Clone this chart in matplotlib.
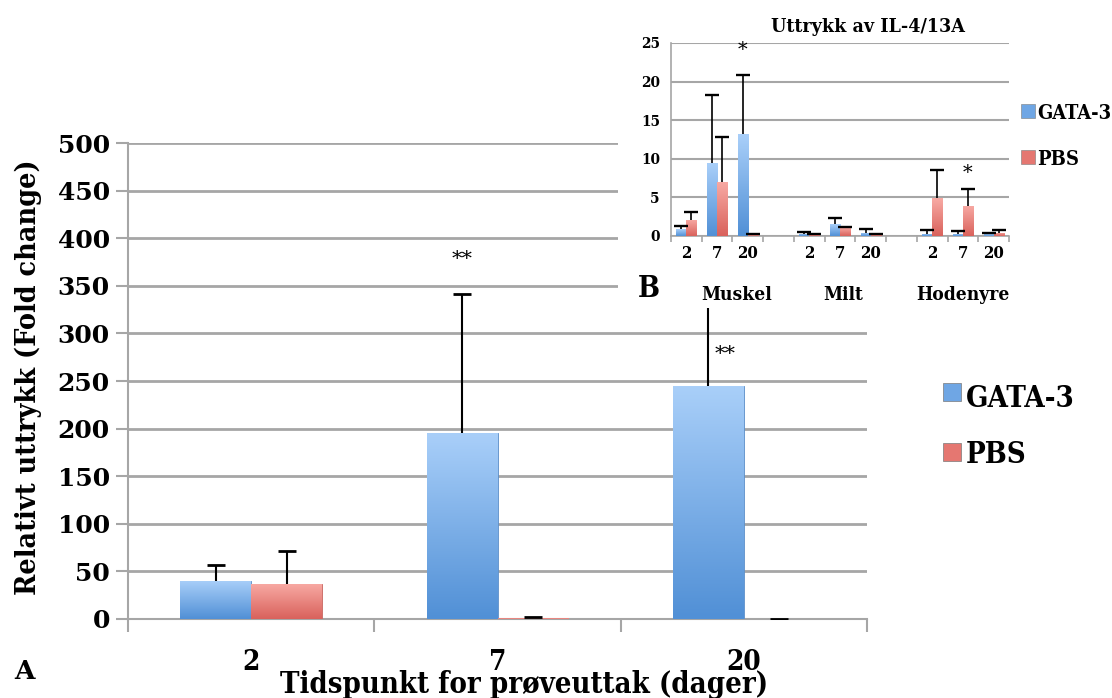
import numpy as np
import matplotlib
matplotlib.use('Agg')
import matplotlib.pyplot as plt
from matplotlib import font_manager as fm
from matplotlib.patches import Rectangle
from matplotlib.colors import LinearSegmentedColormap

# Data, hovedfigur (A)
dager = ['2', '7', '20']
gata = [40, 195, 245]
gata_err = [17, 146, 100]
pbs = [37, 1.0, 0.3]
pbs_err = [34, 1.0, 0.2]
stjerner_a = [(1, 378, '**'), (2, 278, '**')]

# Data, innfelt figur (B)
organer = ['Muskel', 'Milt', 'Hodenyre']
dager_b = ['2', '7', '20', '', '2', '7', '20', '', '2', '7', '20']
gata_b = [0.9, 9.4, 13.2, 0.3, 1.5, 0.4, 0.3, 0.3, 0.2]
gata_b_err = [0.4, 8.8, 7.7, 0.25, 0.8, 0.45, 0.45, 0.4, 0.2]
pbs_b = [2.1, 7.05, 0.1, 0.15, 1.1, 0.15, 4.9, 3.9, 0.4]
pbs_b_err = [1.0, 5.75, 0.2, 0.15, 0.1, 0.15, 3.7, 2.2, 0.35]
stjerner_b = [(2, 'g', 24.1), (9, 'p', 8.2)]

plt.rcParams['font.family'] = 'DejaVu Serif'

# smal (condensed) variant hvis den finnes
sti = fm.findfont(fm.FontProperties(family='DejaVu Serif', weight='bold',
                                    stretch='condensed'))
if 'Condensed' in sti:
    smal = dict(fontweight='bold', fontstretch='condensed')
    k = 1.0
else:
    smal = dict(fontweight='bold')
    k = 0.9

blaa = LinearSegmentedColormap.from_list('blaa', ['#5190d6', '#a9cff9'])
rosa = LinearSegmentedColormap.from_list('rosa', ['#d9625c', '#f8aaa4'])
grid_farge = '#a6a6a6'


def gradient(ax, bars, cmap):
    # fyll hver stolpe med en vertikal fargegradient
    for b in bars:
        x0, y0 = b.get_x(), b.get_y()
        w, h = b.get_width(), b.get_height()
        if h <= 0:
            continue
        grad = np.linspace(0, 1, 64).reshape(-1, 1)
        im = ax.imshow(grad, extent=[x0, x0 + w, y0, y0 + h], origin='lower',
                       cmap=cmap, aspect='auto', zorder=b.get_zorder(),
                       interpolation='bicubic')
        im.set_clip_path(b)


def feilstolper(ax, xs, ys, err, lw, cap):
    # bare oevre feilstolpe, uten strek nederst
    eb = ax.errorbar(xs, ys, yerr=[np.zeros(len(ys)), err], fmt='none',
                     ecolor='black', elinewidth=lw, capsize=cap,
                     capthick=lw + 0.5, zorder=4)
    eb[1][0].set_visible(False)


def ftekst(x, y, s, **kw):
    # tekst plassert i pikselkoordinater (fra toppen)
    return fig.text(x / 1112, 1 - y / 698, s, **kw)


fig = plt.figure(figsize=(11.12, 6.98), dpi=100)

# ---------------- Hovedfigur ----------------
ax = fig.add_axes([0.1151, 0.1132, 0.6646, 0.6819])
x = np.arange(len(dager))
bw = 0.288
b1 = ax.bar(x - bw / 2, gata, bw, color='#7bb0ec', edgecolor='#5d8fc8',
            linewidth=0.6, zorder=3)
b2 = ax.bar(x + bw / 2, pbs, bw, color='#eb8580', edgecolor='#c86660',
            linewidth=0.6, zorder=3)
gradient(ax, b1, blaa)
gradient(ax, b2, rosa)
feilstolper(ax, x - bw / 2, gata, gata_err, 1.5, 6.5)
feilstolper(ax, x + bw / 2, pbs, pbs_err, 1.5, 6.5)

for i, yv, s in stjerner_a:
    dx = 0.0 if i == 1 else 0.07
    ax.text(i - bw / 2 + dx, yv, s, ha='center', va='center', fontsize=15)

ax.set_xlim(-0.5, 2.5)
ax.set_ylim(0, 500)
ax.set_yticks(np.arange(0, 501, 50))
ax.tick_params(axis='y', labelsize=18, length=9, color=grid_farge, width=1.5,
               pad=4)
for t in ax.get_yticklabels():
    t.set_fontweight('bold')
ax.set_xticks(np.arange(-0.5, 2.6, 1))
ax.set_xticklabels([])
ax.tick_params(axis='x', length=9, color=grid_farge, width=1.5)
for i, d in enumerate(dager):
    ax.text(i, -54, d, ha='center', va='baseline', fontsize=20 * k,
            clip_on=False, **smal)
ax.yaxis.grid(True, color=grid_farge, linewidth=2)
ax.set_axisbelow(True)
for s in ['top', 'right']:
    ax.spines[s].set_visible(False)
for s in ['left', 'bottom']:
    ax.spines[s].set_color(grid_farge)
    ax.spines[s].set_linewidth(1.5)

ftekst(28, 377, 'Relativt uttrykk (Fold change)', rotation=90, ha='center',
       va='center', fontsize=20.5 * k, **smal)
ftekst(524, 693, 'Tidspunkt for prøveuttak (dager)', ha='center',
       va='baseline', fontsize=21 * k, **smal)
ftekst(24, 679, 'A', ha='center', va='baseline', fontsize=19,
       fontweight='bold')

# legende hovedfigur
for ytop, base, navn, c in [(383, 407, 'GATA-3', '#6fa6e4'),
                            (443, 463, 'PBS', '#e57771')]:
    fig.patches.append(Rectangle((943 / 1112, 1 - (ytop + 18) / 698),
                                 18 / 1112, 18 / 698,
                                 transform=fig.transFigure, facecolor=c,
                                 edgecolor='#7a7a7a', linewidth=0.5))
    ftekst(966, base, navn, ha='left', va='baseline', fontsize=21 * k, **smal)

# hvit bakgrunn bak innfelt figur
hvit = Rectangle((618 / 1112, 1 - 308 / 698), 1, 1, transform=fig.transFigure,
                 facecolor='white', edgecolor='none', zorder=1)
fig.add_artist(hvit)

# ---------------- Innfelt figur ----------------
ax2 = fig.add_axes([0.6034, 0.6619, 0.304, 0.2765], zorder=2)
ax2.patch.set_alpha(0)
pos = np.array([0, 1, 2, 4, 5, 6, 8, 9, 10])
bw2 = 0.33
c1 = ax2.bar(pos - bw2 / 2, gata_b, bw2, color='#7bb0ec', edgecolor='#5d8fc8',
             linewidth=0.4, zorder=3)
c2 = ax2.bar(pos + bw2 / 2, pbs_b, bw2, color='#eb8580', edgecolor='#c86660',
             linewidth=0.4, zorder=3)
gradient(ax2, c1, blaa)
gradient(ax2, c2, rosa)
feilstolper(ax2, pos - bw2 / 2, gata_b, gata_b_err, 1.2, 5)
feilstolper(ax2, pos + bw2 / 2, pbs_b, pbs_b_err, 1.2, 5)
for p, s, yv in stjerner_b:
    xx = p - bw2 / 2 if s == 'g' else p + bw2 / 2
    ax2.text(xx, yv, '*', ha='center', va='center', fontsize=14)

ax2.set_xlim(-0.5, 10.5)
ax2.set_ylim(0, 25)
ax2.set_yticks(np.arange(0, 26, 5))
ax2.tick_params(axis='y', labelsize=11 * k, length=0, pad=8)
for t in ax2.get_yticklabels():
    t.set_fontweight('bold')
    if k == 1.0:
        t.set_fontstretch('condensed')
ax2.set_xticks(np.arange(11))
ax2.set_xticklabels([])
for i, d in enumerate(dager_b):
    ax2.text(i, -2.8, d, ha='center', va='baseline', fontsize=12 * k,
             clip_on=False, **smal)
ax2.tick_params(axis='x', length=0)
ax2.set_xticks(np.arange(-0.5, 10.6, 1), minor=True)
ax2.tick_params(axis='x', which='minor', length=4, color=grid_farge, width=1.2)
ax2.yaxis.grid(True, color=grid_farge, linewidth=1.5)
ax2.set_axisbelow(True)
for s in ['top', 'right']:
    ax2.spines[s].set_visible(False)
for s in ['left', 'bottom']:
    ax2.spines[s].set_color(grid_farge)
    ax2.spines[s].set_linewidth(1.2)

ftekst(868, 32, 'Uttrykk av IL-4/13A', ha='center', va='baseline',
       fontsize=14 * k, zorder=3, **smal)
for xx, navn in zip([737, 843, 963], organer):
    ftekst(xx, 300, navn, ha='center', va='baseline', fontsize=13.8 * k,
           zorder=3, **smal)
ftekst(649, 297, 'B', ha='center', va='baseline', fontsize=21 * k, zorder=3,
       **smal)

# legende innfelt figur
for ytop, base, navn, c in [(104, 119, 'GATA-3', '#6fa6e4'),
                            (150, 165, 'PBS', '#e57771')]:
    fig.add_artist(Rectangle((1021 / 1112, 1 - (ytop + 14) / 698), 14 / 1112,
                             14 / 698, transform=fig.transFigure, facecolor=c,
                             edgecolor='#7a7a7a', linewidth=0.4, zorder=3))
    ftekst(1037, base, navn, ha='left', va='baseline', fontsize=14.4 * k,
           zorder=3, **smal)

fig.savefig('out.png', dpi=100)
